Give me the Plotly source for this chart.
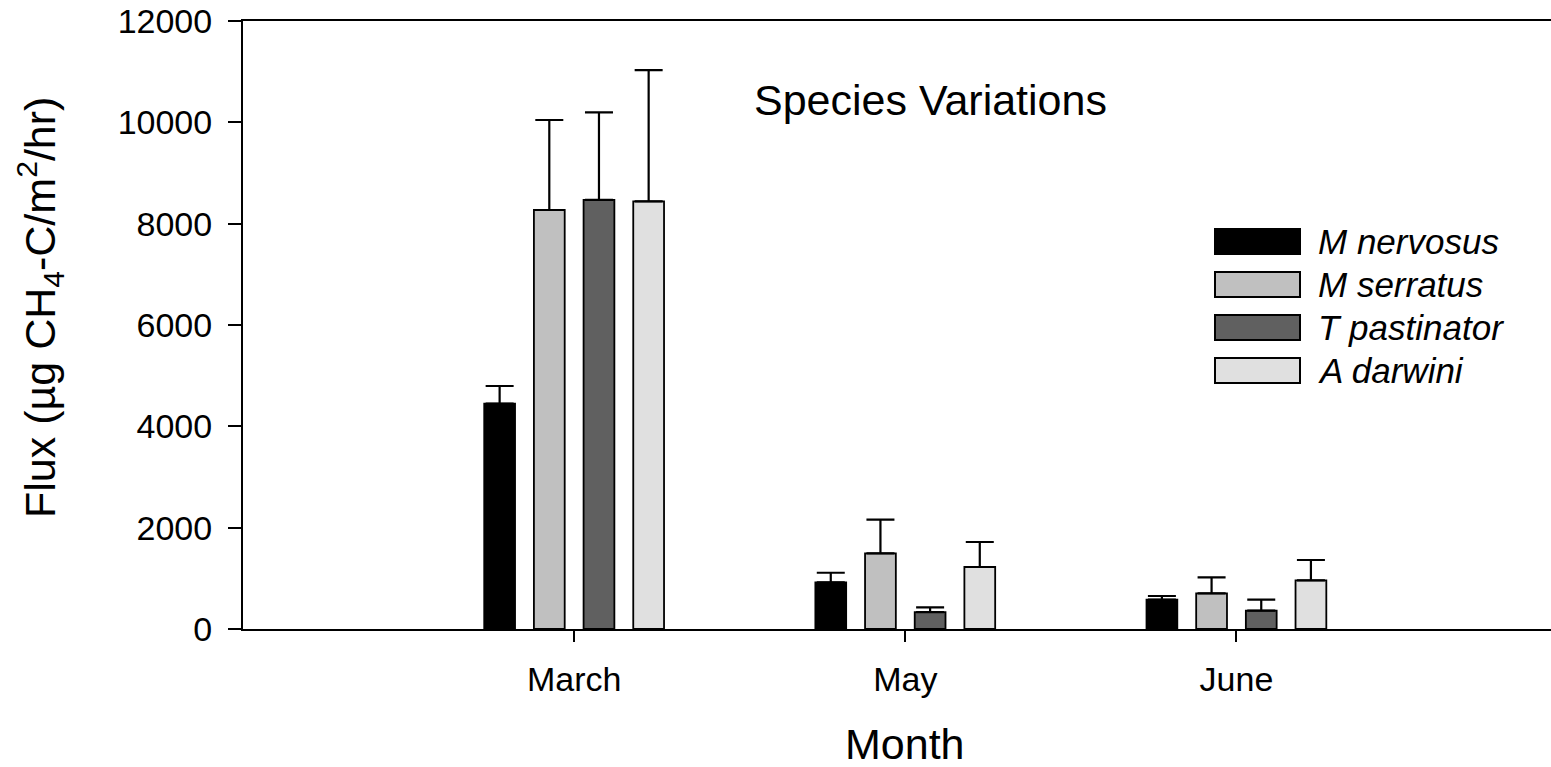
import plotly.graph_objects as go

# Monthly methane flux by species (mean and upper standard error)
months = ["March", "May", "June"]
species = ["M nervosus", "M serratus", "T pastinator", "A darwini"]

flux_m_nervosus = [4450, 920, 578]
flux_m_serratus = [8270, 1494, 705]
flux_t_pastinator = [8470, 335, 361]
flux_a_darwini = [8440, 1224, 961]

err_m_nervosus = [346, 190, 73]
err_m_serratus = [1776, 663, 315]
err_t_pastinator = [1728, 93, 217]
err_a_darwini = [2590, 493, 401]

y_ticks = [0, 2000, 4000, 6000, 8000, 10000, 12000]

means = [flux_m_nervosus, flux_m_serratus, flux_t_pastinator, flux_a_darwini]
errors = [err_m_nervosus, err_m_serratus, err_t_pastinator, err_a_darwini]
fills = ["#000000", "#c0c0c0", "#606060", "#e0e0e0"]

FONT = "Liberation Sans, Arial, Helvetica, sans-serif"
W, H = 1551, 767
L, R, T, B = 243, 0, 21, 138
PW, PH = W - L - R, H - T - B


def px_x(x):
    return (x - L) / PW


def px_y(y):
    return (H - B - y) / PH


fig = go.Figure()
for name, vals, errs, col in zip(species, means, errors, fills):
    fig.add_trace(go.Bar(
        x=months, y=vals, name=name,
        marker=dict(color=col, line=dict(color="#000000", width=1.8)),
        error_y=dict(type="data", symmetric=False, array=errs,
                     arrayminus=[0] * len(errs), color="#000000",
                     thickness=2.2, width=14),
        showlegend=False,
    ))

# legend drawn as large swatches with italic labels
shapes = []
annotations = []
for i, (name, col) in enumerate(zip(species, fills)):
    top = 229 + i * 43
    bot = top + 25
    shapes.append(dict(type="rect", xref="paper", yref="paper",
                       x0=px_x(1215), x1=px_x(1300), y0=px_y(bot), y1=px_y(top),
                       fillcolor=col, line=dict(color="#000000", width=2)))
    annotations.append(dict(xref="paper", yref="paper", x=px_x(1316),
                            y=px_y((top + bot) / 2), xanchor="left", yanchor="middle",
                            text=f"<i>{name}</i>", showarrow=False,
                            font=dict(family=FONT, size=35, color="#000000")))

annotations.append(dict(xref="paper", yref="paper", x=px_x(930), y=px_y(100),
                        xanchor="center", yanchor="middle", text="Species Variations",
                        showarrow=False, font=dict(family=FONT, size=43, color="#000000")))
annotations.append(dict(xref="paper", yref="paper", x=px_x(905), y=px_y(744),
                        xanchor="center", yanchor="middle", text="Month",
                        showarrow=False, font=dict(family=FONT, size=43, color="#000000")))
annotations.append(dict(xref="paper", yref="paper", x=px_x(40), y=px_y(308),
                        xanchor="center", yanchor="middle", textangle=-90,
                        text="Flux (µg CH<sub>4</sub>-C/m<sup>2</sup>/hr)",
                        showarrow=False, font=dict(family=FONT, size=43, color="#000000")))

fig.update_layout(
    width=W, height=H,
    margin=dict(l=L, r=R, t=T, b=B, pad=0),
    paper_bgcolor="white", plot_bgcolor="white",
    barmode="group", bargap=0.4, bargroupgap=0.38,
    shapes=shapes, annotations=annotations,
    font=dict(family=FONT, color="#000000"),
)
fig.update_xaxes(
    range=[-1, 2.95], showgrid=False, zeroline=False,
    showline=True, linecolor="#000000", linewidth=2, mirror=True,
    ticks="outside", ticklen=11, tickwidth=2, tickcolor="#000000",
    tickfont=dict(family=FONT, size=34, color="#000000"),
    ticklabelstandoff=8,
)
fig.update_yaxes(
    range=[0, 12000], tickvals=y_ticks, ticktext=[str(v) for v in y_ticks],
    showgrid=False, zeroline=False,
    showline=True, linecolor="#000000", linewidth=2,
    ticks="outside", ticklen=13, tickwidth=2, tickcolor="#000000",
    tickfont=dict(family=FONT, size=34, color="#000000"),
    ticklabelstandoff=9,
)

fig.write_html("out.html")
